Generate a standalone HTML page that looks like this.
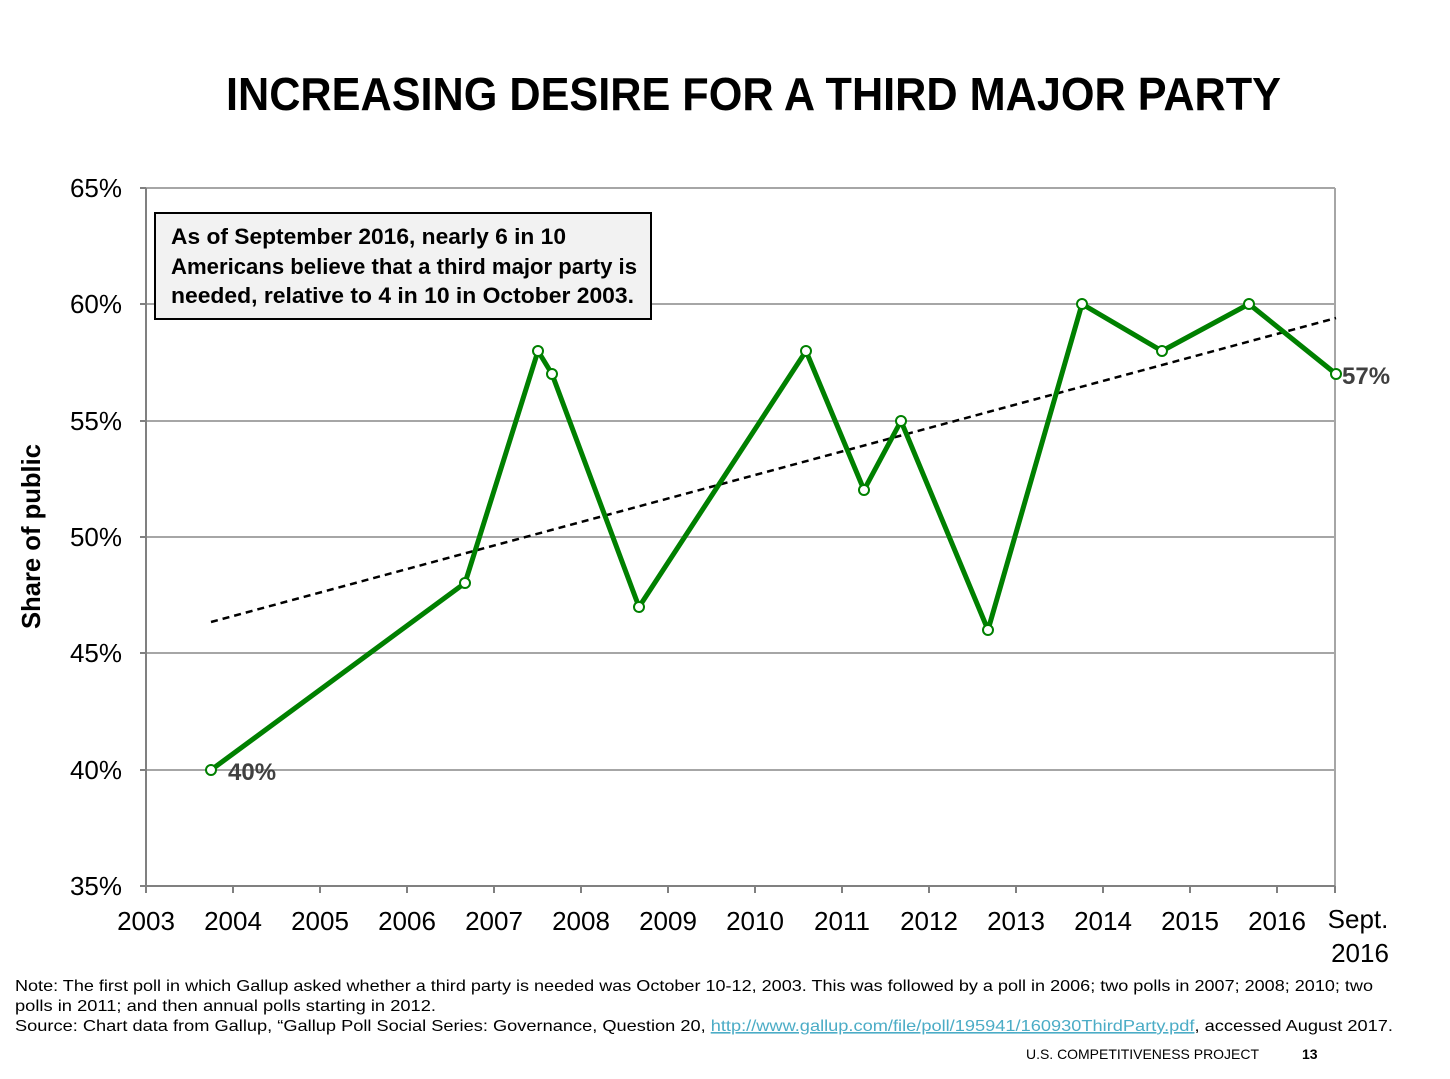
<!DOCTYPE html>
<html><head><meta charset="utf-8"><style>
body{margin:0;background:#fff;width:1450px;height:1074px;overflow:hidden;font-family:"Liberation Sans",sans-serif}
</style></head><body>
<svg width="1450" height="1074" xmlns="http://www.w3.org/2000/svg" font-family="Liberation Sans, sans-serif">
<text x="226" y="110" textLength="1055" lengthAdjust="spacingAndGlyphs" font-weight="bold" font-size="46" fill="#000">INCREASING DESIRE FOR A THIRD MAJOR PARTY</text>
<g stroke="#a6a6a6" stroke-width="2">
<line x1="146" y1="188" x2="1335" y2="188"/><line x1="146" y1="304" x2="1335" y2="304"/>
<line x1="146" y1="421" x2="1335" y2="421"/><line x1="146" y1="537" x2="1335" y2="537"/>
<line x1="146" y1="653" x2="1335" y2="653"/><line x1="146" y1="770" x2="1335" y2="770"/>
<line x1="1335" y1="188" x2="1335" y2="886"/>
</g>
<g stroke="#808080" stroke-width="2">
<line x1="146" y1="188" x2="146" y2="886"/><line x1="140" y1="886" x2="1335" y2="886"/>
<line x1="140" y1="188" x2="146" y2="188"/><line x1="140" y1="304" x2="146" y2="304"/><line x1="140" y1="421" x2="146" y2="421"/><line x1="140" y1="537" x2="146" y2="537"/><line x1="140" y1="653" x2="146" y2="653"/><line x1="140" y1="770" x2="146" y2="770"/>
<line x1="146" y1="886" x2="146" y2="893"/><line x1="233" y1="886" x2="233" y2="893"/><line x1="320" y1="886" x2="320" y2="893"/><line x1="407" y1="886" x2="407" y2="893"/><line x1="494" y1="886" x2="494" y2="893"/><line x1="581" y1="886" x2="581" y2="893"/><line x1="668" y1="886" x2="668" y2="893"/><line x1="755" y1="886" x2="755" y2="893"/><line x1="842" y1="886" x2="842" y2="893"/><line x1="929" y1="886" x2="929" y2="893"/><line x1="1016" y1="886" x2="1016" y2="893"/><line x1="1103" y1="886" x2="1103" y2="893"/><line x1="1190" y1="886" x2="1190" y2="893"/><line x1="1277" y1="886" x2="1277" y2="893"/><line x1="1335" y1="886" x2="1335" y2="893"/>
</g>
<g font-size="26" fill="#000" text-anchor="end">
<text x="122" y="197">65%</text><text x="122" y="313">60%</text><text x="122" y="430">55%</text><text x="122" y="546">50%</text><text x="122" y="662">45%</text><text x="122" y="779">40%</text><text x="122" y="895">35%</text>
</g>
<g font-size="26" fill="#000" text-anchor="middle">
<text x="146" y="930">2003</text><text x="233" y="930">2004</text><text x="320" y="930">2005</text><text x="407" y="930">2006</text><text x="494" y="930">2007</text><text x="581" y="930">2008</text><text x="668" y="930">2009</text><text x="755" y="930">2010</text><text x="842" y="930">2011</text><text x="929" y="930">2012</text><text x="1016" y="930">2013</text><text x="1103" y="930">2014</text><text x="1190" y="930">2015</text><text x="1277" y="930">2016</text><text x="1358" y="928">Sept.</text><text x="1360" y="962">2016</text>
</g>
<text transform="translate(40,629) rotate(-90)" textLength="185" lengthAdjust="spacingAndGlyphs" font-size="26" font-weight="bold">Share of public</text>
<line x1="211" y1="622" x2="1336" y2="318" stroke="#000" stroke-width="2.5" stroke-dasharray="7,5"/>
<polyline fill="none" stroke="#008000" stroke-width="5" stroke-linejoin="round" points="211,770 465,583 538,351 552,374 639,607 806,351 864,490 901,421 988,630 1082,304 1162,351 1249,304 1336,374"/>
<g fill="#fff" stroke="#008000" stroke-width="2">
<circle cx="211" cy="770" r="5"/><circle cx="465" cy="583" r="5"/><circle cx="538" cy="351" r="5"/><circle cx="552" cy="374" r="5"/><circle cx="639" cy="607" r="5"/><circle cx="806" cy="351" r="5"/><circle cx="864" cy="490" r="5"/><circle cx="901" cy="421" r="5"/><circle cx="988" cy="630" r="5"/><circle cx="1082" cy="304" r="5"/><circle cx="1162" cy="351" r="5"/><circle cx="1249" cy="304" r="5"/><circle cx="1336" cy="374" r="5"/>
</g>
<text x="228" y="780" font-size="24" font-weight="bold" fill="#404040">40%</text>
<text x="1342" y="384" font-size="24" font-weight="bold" fill="#404040">57%</text>
<rect x="155" y="213" width="496" height="106" fill="#f2f2f2" stroke="#000" stroke-width="2"/>
<g font-size="22" font-weight="bold" fill="#000">
<text x="171" y="244" textLength="395" lengthAdjust="spacingAndGlyphs">As of September 2016, nearly 6 in 10</text>
<text x="171" y="274" textLength="466" lengthAdjust="spacingAndGlyphs">Americans believe that a third major party is</text>
<text x="171" y="303" textLength="463" lengthAdjust="spacingAndGlyphs">needed, relative to 4 in 10 in October 2003.</text>
</g>
<g font-size="16" fill="#000">
<text x="15" y="991" textLength="1358" lengthAdjust="spacingAndGlyphs">Note: The first poll in which Gallup asked whether a third party is needed was October 10-12, 2003. This was followed by a poll in 2006; two polls in 2007; 2008; 2010; two</text>
<text x="15" y="1011" textLength="421" lengthAdjust="spacingAndGlyphs">polls in 2011; and then annual polls starting in 2012.</text>
<text x="15" y="1031" textLength="1378" lengthAdjust="spacingAndGlyphs">Source: Chart data from Gallup, “Gallup Poll Social Series: Governance, Question 20, <tspan fill="#4bacc6" text-decoration="underline">http://www.gallup.com/file/poll/195941/160930ThirdParty.pdf</tspan>, accessed August 2017.</text>
</g>
<text x="1026" y="1059" font-size="14" fill="#000" textLength="233" lengthAdjust="spacingAndGlyphs">U.S. COMPETITIVENESS PROJECT</text>
<text x="1302" y="1059" font-size="14" font-weight="bold" fill="#000">13</text>
</svg>
</body></html>
